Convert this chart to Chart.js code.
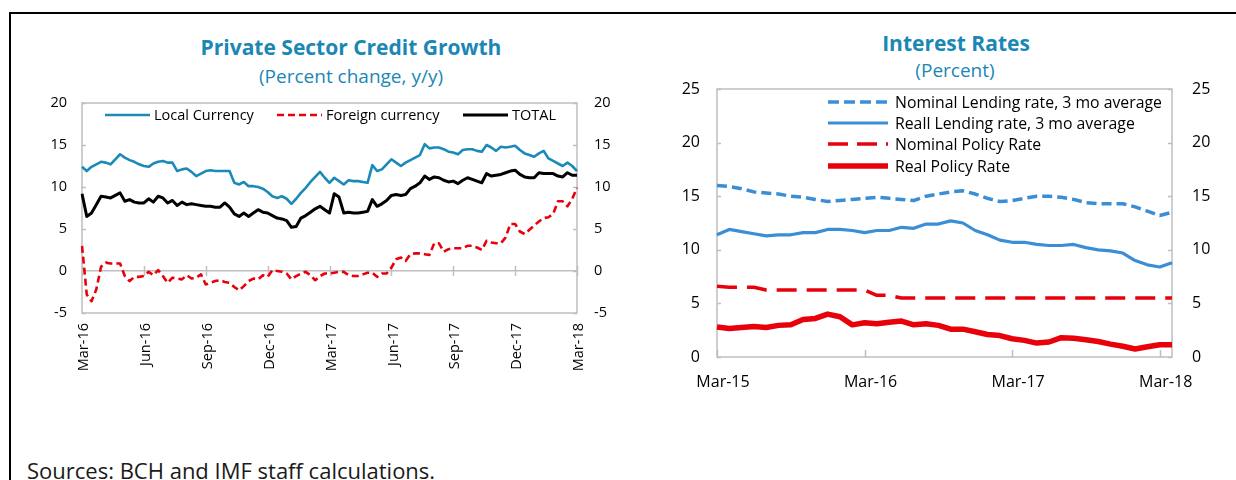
<!DOCTYPE html>
<html>
<head>
<meta charset="utf-8">
<script src="https://cdn.jsdelivr.net/npm/chart.js@4.4.1/dist/chart.umd.min.js"></script>
<style>
html,body{margin:0;padding:0;background:#fff;width:1236px;height:480px;overflow:hidden;font-family:'Open Sans',sans-serif;}
#frame{position:absolute;left:9px;top:12px;width:1400px;height:600px;border-left:2px solid #000;border-top:2px solid #000;}
.title{position:absolute;color:#1A87B5;font-weight:700;font-size:21px;line-height:26px;white-space:nowrap;transform:translateX(-50%);}
.sub{position:absolute;color:#1A87B5;font-size:19px;line-height:24px;white-space:nowrap;transform:translateX(-50%);}
#src{position:absolute;left:27px;top:455px;font-size:22px;line-height:30px;color:#1a1a1a;white-space:nowrap;}
canvas{position:absolute;}
</style>
</head>
<body>
<div id="frame"></div>
<div class="title" style="left:351px;top:34px;">Private Sector Credit Growth</div>
<div class="sub" style="left:351px;top:64px;">(Percent change, y/y)</div>
<div class="title" style="left:956px;top:30px;">Interest Rates</div>
<div class="sub" style="left:955px;top:58px;">(Percent)</div>
<canvas id="c1" width="600" height="317" style="left:20px;top:73px;"></canvas>
<canvas id="c2" width="596" height="346" style="left:640px;top:54px;"></canvas>
<div id="src">Sources: BCH and IMF staff calculations.</div>
<script>
// ---------- Left chart data (weekly, Mar-2016 to Mar-2018) ----------
const creditTickLabels = ['Mar-16','Jun-16','Sep-16','Dec-16','Mar-17','Jun-17','Sep-17','Dec-17','Mar-18'];
const weeksPerQuarter = 13;
const localCurrency = [12.4,11.9,12.4,12.7,13.0,12.9,12.7,13.3,13.9,13.5,
 13.2,13.0,12.7,12.5,12.4,12.8,13.0,13.1,12.9,12.9,
 11.9,12.1,12.2,11.8,11.3,11.6,11.9,12.0,11.9,11.9,
 11.9,11.9,10.5,10.3,10.6,10.1,10.1,10.0,9.8,9.4,
 8.9,8.7,8.9,8.6,8.0,8.6,9.3,9.9,10.6,11.2,
 11.8,11.1,10.5,11.1,10.7,10.3,10.8,10.7,10.7,10.6,
 10.5,12.6,11.9,12.1,12.7,13.3,12.9,12.5,12.9,13.2,
 13.5,13.8,15.1,14.6,14.7,14.7,14.5,14.2,14.1,13.9,
 14.4,14.5,14.5,14.3,14.2,15.0,14.7,14.3,14.8,14.7,
 14.8,14.9,14.4,14.0,13.8,13.6,14.0,14.3,13.4,13.1,
 12.8,12.5,12.9,12.5,11.9];
const foreignCurrency = [3.0,-2.8,-3.6,-2.2,0.5,1.0,0.9,0.9,0.9,-0.6,
 -1.2,-0.7,-0.7,-0.6,-0.1,-0.5,0.1,-0.6,-1.4,-0.8,
 -0.9,-1.0,-0.5,-0.9,-0.8,-0.4,-1.6,-1.4,-1.2,-1.1,
 -1.3,-1.4,-1.9,-2.3,-1.8,-1.2,-0.9,-1.0,-0.5,-0.7,
 0.1,0.0,-0.1,-0.3,-1.0,-0.6,-0.3,-0.1,-0.5,-1.1,
 -0.6,-0.3,-0.3,-0.2,-0.1,-0.1,-0.5,-0.6,-0.6,-0.4,
 -0.2,-0.2,-0.7,-0.3,-0.3,0.4,1.4,1.6,1.2,2.0,
 2.1,2.1,2.0,1.9,3.3,3.3,2.3,2.6,2.7,2.7,
 2.7,3.0,3.0,2.8,2.5,3.6,3.4,3.3,3.3,4.0,
 5.6,5.6,4.7,4.4,4.9,5.4,5.9,6.3,6.4,6.8,
 8.3,8.3,7.7,8.6,9.9];
const totalCredit = [9.2,6.5,6.9,7.9,8.9,8.8,8.7,9.0,9.3,8.3,
 8.5,8.2,8.1,8.1,8.6,8.2,8.9,8.7,8.1,8.4,
 7.8,8.2,7.9,8.0,7.9,7.8,7.7,7.7,7.6,7.6,
 8.1,7.6,6.8,6.5,6.9,6.5,6.9,7.3,7.0,6.9,
 6.6,6.3,6.2,6.0,5.2,5.3,6.3,6.6,7.0,7.4,
 7.7,7.3,6.9,9.2,8.8,6.9,7.0,6.9,6.9,7.0,
 7.1,8.5,7.7,8.0,8.4,9.0,9.1,9.0,9.1,9.8,
 10.1,10.5,11.3,10.9,11.2,11.1,10.8,10.6,10.7,10.4,
 10.8,11.1,10.9,10.7,10.5,11.6,11.3,11.4,11.5,11.7,
 11.9,12.0,11.5,11.2,11.1,11.1,11.7,11.6,11.6,11.6,
 11.3,11.2,11.7,11.4,11.4];
const creditWeeks = [];
{ const start = new Date(Date.UTC(2016, 2, 4));
  for (let i = 0; i < localCurrency.length; i++) {
    const d = new Date(start.getTime() + i * 7 * 86400000);
    creditWeeks.push(d.toISOString().slice(0, 10));
  } }

// ---------- Right chart data (monthly, Mar-2015 to Apr-2018) ----------
const rateTickLabels = ['Mar-15','Mar-16','Mar-17','Mar-18'];
const nominalLending = [16.0,15.9,15.7,15.4,15.3,15.2,15.0,14.9,14.7,14.5,14.6,14.7,14.8,14.9,14.8,14.7,14.6,15.0,15.2,15.4,15.5,15.2,14.8,14.5,14.6,14.8,15.0,15.0,14.9,14.7,14.4,14.3,14.3,14.3,14.0,13.6,13.2,13.5];
const realLending = [11.4,11.9,11.7,11.5,11.3,11.4,11.4,11.6,11.6,11.9,11.9,11.8,11.6,11.8,11.8,12.1,12.0,12.4,12.4,12.7,12.5,11.8,11.4,10.9,10.7,10.7,10.5,10.4,10.4,10.5,10.2,10.0,9.9,9.7,9.0,8.6,8.4,8.8];
const nominalPolicy = [6.6,6.5,6.5,6.5,6.25,6.25,6.25,6.25,6.25,6.25,6.25,6.25,6.25,5.75,5.75,5.5,5.5,5.5,5.5,5.5,5.5,5.5,5.5,5.5,5.5,5.5,5.5,5.5,5.5,5.5,5.5,5.5,5.5,5.5,5.5,5.5,5.5,5.5];
const realPolicy = [2.8,2.65,2.75,2.85,2.75,2.95,3.0,3.5,3.6,4.0,3.75,3.0,3.2,3.1,3.25,3.35,3.0,3.1,2.95,2.6,2.6,2.35,2.1,2.0,1.7,1.55,1.3,1.4,1.8,1.75,1.6,1.45,1.2,1.0,0.75,0.95,1.15,1.15];
const monthNames = ['Jan','Feb','Mar','Apr','May','Jun','Jul','Aug','Sep','Oct','Nov','Dec'];
const rateMonths = [];
for (let i = 0; i < realLending.length; i++) {
  const m = 2 + i; const y = 15 + Math.floor(m / 12);
  rateMonths.push(monthNames[m % 12] + '-' + y);
}

// ---------- Plugins ----------
const frameTicks = {
  id: 'frameTicks',
  beforeDatasetsDraw(chart, args, o) {
    const {ctx, chartArea: a, scales} = chart;
    ctx.save();
    ctx.strokeStyle = o.color; ctx.lineWidth = o.width;
    ctx.strokeRect(a.left, a.top, a.right - a.left, a.bottom - a.top);
    ctx.beginPath();
    const ys = scales.y;
    ys.ticks.forEach(t => {
      const p = Math.round(ys.getPixelForValue(t.value)) + 0.5;
      ctx.moveTo(a.left, p); ctx.lineTo(a.left + o.yTick, p);
      ctx.moveTo(a.right, p); ctx.lineTo(a.right - o.yTick, p);
    });
    const xs = scales.x;
    const base = o.xAtZero ? ys.getPixelForValue(0) : a.bottom;
    xs.ticks.forEach((t, i) => {
      if (!t.label) return;
      const p = Math.round(xs.getPixelForTick(i)) + 0.5;
      ctx.moveTo(p, base + o.xDown); ctx.lineTo(p, base - o.xUp);
    });
    ctx.stroke();
    ctx.restore();
  }
};
const inLegend = {
  id: 'inLegend',
  afterDatasetsDraw(chart, args, o) {
    const {ctx, chartArea: a} = chart;
    ctx.save();
    ctx.font = o.font; ctx.textBaseline = 'middle'; ctx.fillStyle = '#000';
    chart.data.datasets.forEach((ds, i) => {
      const pos = o.items[i];
      const x = a.left + pos[0], y = a.top + pos[1];
      ctx.beginPath();
      ctx.setLineDash(ds.legendDash || ds.borderDash || []);
      ctx.strokeStyle = ds.borderColor; ctx.lineWidth = ds.borderWidth; ctx.lineCap = 'butt';
      ctx.moveTo(x, y); ctx.lineTo(x + o.sample, y); ctx.stroke();
      ctx.setLineDash([]);
      ctx.fillText(ds.label, x + o.sample + o.gap, y + 1);
    });
    ctx.restore();
  }
};

Chart.defaults.font.family = "'Open Sans', sans-serif";
Chart.defaults.color = '#000';

// ---------- Left chart ----------
new Chart(document.getElementById('c1'), {
  type: 'line',
  data: {
    labels: creditWeeks,
    datasets: [
      {label: 'Local Currency', data: localCurrency, borderColor: '#1B8AB8', borderWidth: 2.6},
      {label: 'Foreign currency', data: foreignCurrency, borderColor: '#E8000B', borderWidth: 2.6, borderDash: [7,4]},
      {label: 'TOTAL', data: totalCredit, borderColor: '#000000', borderWidth: 3}
    ]
  },
  options: {
    responsive: false, animation: false, devicePixelRatio: 1,
    layout: {padding: {top: 30, left: 0, right: 0, bottom: 0}},
    elements: {point: {radius: 0}, line: {tension: 0, borderJoinStyle: 'round'}},
    plugins: {
      legend: {display: false}, tooltip: {enabled: false},
      frameTicks: {color: '#BFBFBF', width: 1.5, yTick: 4, xAtZero: true, xDown: 5, xUp: 5},
      inLegend: {font: "14.5px 'Open Sans'", sample: 45, gap: 4, items: [[23,12],[195,12],[381,12]]}
    },
    scales: {
      x: {
        grid: {display: false, drawTicks: false}, border: {display: false},
        afterFit: s => { s.height = 77; },
        ticks: {autoSkip: false, maxRotation: 90, minRotation: 90, padding: 10, labelOffset: 2, font: {size: 14.5},
          callback: (v, i) => (i % weeksPerQuarter === 0 ? creditTickLabels[i / weeksPerQuarter] : '')}
      },
      y: {
        position: 'left', min: -5, max: 20,
        afterFit: s => { s.width = 62; },
        grid: {drawTicks: false, lineWidth: 1.5, color: c => (c.tick && c.tick.value === 0 ? '#BFBFBF' : 'rgba(0,0,0,0)')},
        border: {display: false},
        ticks: {stepSize: 5, padding: 15, font: {size: 14.5}}
      },
      y2: {
        position: 'right', min: -5, max: 20,
        afterFit: s => { s.width = 43; },
        grid: {display: false, drawTicks: false}, border: {display: false},
        ticks: {stepSize: 5, padding: 17, font: {size: 14.5}}
      }
    }
  },
  plugins: [frameTicks, inLegend]
});

// ---------- Right chart ----------
new Chart(document.getElementById('c2'), {
  type: 'line',
  data: {
    labels: rateMonths,
    datasets: [
      {label: 'Nominal Lending rate, 3 mo average', data: nominalLending, borderColor: '#3A8ED6', borderWidth: 3.5, borderDash: [10,5], legendDash: [11,5]},
      {label: 'Reall Lending rate, 3 mo average', data: realLending, borderColor: '#3A8ED6', borderWidth: 3.2},
      {label: 'Nominal Policy Rate', data: nominalPolicy, borderColor: '#E8000B', borderWidth: 3.5, borderDash: [20,10], legendDash: [20,9]},
      {label: 'Real Policy Rate', data: realPolicy, borderColor: '#E8000B', borderWidth: 5.5}
    ]
  },
  options: {
    responsive: false, animation: false, devicePixelRatio: 1,
    layout: {padding: {top: 35, left: 0, right: 0, bottom: 0}},
    elements: {point: {radius: 0}, line: {tension: 0, borderJoinStyle: 'round'}},
    plugins: {
      legend: {display: false}, tooltip: {enabled: false},
      frameTicks: {color: '#BFBFBF', width: 1.5, yTick: 4, xAtZero: false, xDown: 0, xUp: 7},
      inLegend: {font: "15.8px 'Open Sans'", sample: 60, gap: 7, items: [[111,13],[111,34],[111,55],[111,77]]}
    },
    scales: {
      x: {
        grid: {display: false, drawTicks: false}, border: {display: false},
        afterFit: s => { s.height = 43; },
        ticks: {autoSkip: false, maxRotation: 0, minRotation: 0, padding: 16, labelOffset: 6, font: {size: 16},
          callback: (v, i) => (rateTickLabels.includes(rateMonths[i]) ? rateMonths[i] : '')}
      },
      y: {
        position: 'left', min: 0, max: 25,
        afterFit: s => { s.width = 77; },
        grid: {display: false, drawTicks: false}, border: {display: false},
        ticks: {stepSize: 5, padding: 17, font: {size: 16}}
      },
      y2: {
        position: 'right', min: 0, max: 25,
        afterFit: s => { s.width = 64; },
        grid: {display: false, drawTicks: false}, border: {display: false},
        ticks: {stepSize: 5, padding: 20, font: {size: 16}}
      }
    }
  },
  plugins: [frameTicks, inLegend]
});
</script>
</body>
</html>
